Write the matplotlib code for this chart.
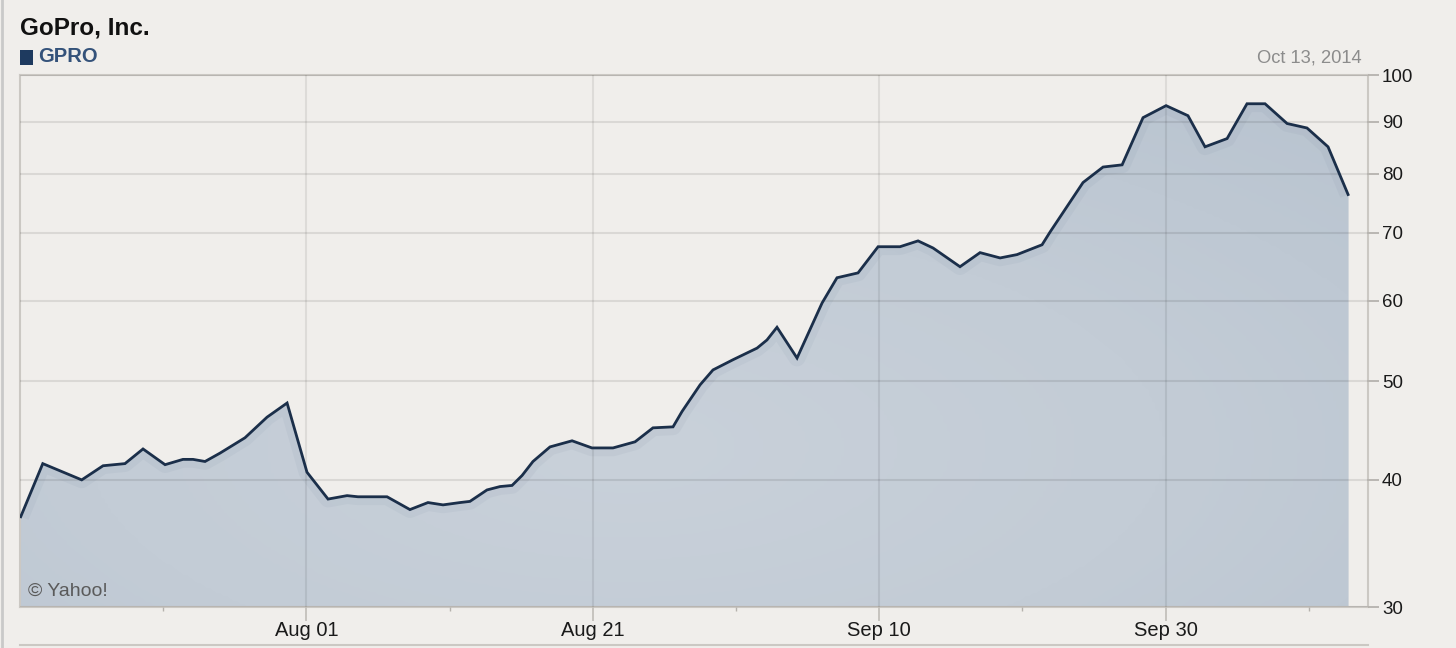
import numpy as np
import pandas as pd
import matplotlib
matplotlib.use("Agg")
import matplotlib.pyplot as plt
from matplotlib.patches import Rectangle
from matplotlib.lines import Line2D
from matplotlib.ticker import FixedLocator, FuncFormatter, NullLocator
from matplotlib.colors import LinearSegmentedColormap
import matplotlib.dates as mdates

plt.rcParams["font.family"] = ["Liberation Sans", "DejaVu Sans"]

# Données : jours depuis le 12 juillet 2014 et cours (USD)
debut = pd.Timestamp("2014-07-12")
jours = [0.05, 1.59, 4.31, 5.80, 7.33, 8.59, 10.13, 11.38, 12.08, 12.92,
         13.97, 15.71, 17.25, 18.65, 20.04, 21.51, 22.84, 23.60, 25.63, 27.23,
         28.49, 29.54, 30.73, 31.42, 32.61, 33.52, 34.36, 35.06, 35.82, 37.01,
         38.55, 39.94, 41.41, 42.95, 44.20, 45.60, 46.23, 47.49, 48.39, 49.79,
         51.47, 52.16, 52.86, 54.26, 56.01, 57.05, 58.52, 59.92, 61.45, 62.71,
         63.76, 65.64, 67.04, 68.44, 69.62, 71.37, 71.93, 74.23, 75.63, 76.96,
         78.42, 80.03, 81.56, 82.75, 84.29, 85.68, 86.94, 88.48, 89.87, 91.34,
         92.74]
prix = [36.8, 41.5, 40.0, 41.3, 41.5, 42.9, 41.4, 41.9, 41.9, 41.7,
        42.5, 44.0, 46.1, 47.6, 40.7, 38.3, 38.6, 38.5, 38.5, 37.4,
        38.0, 37.8, 38.0, 38.1, 39.1, 39.4, 39.5, 40.4, 41.7, 43.1,
        43.7, 43.0, 43.0, 43.6, 45.0, 45.1, 46.7, 49.6, 51.3, 52.5,
        53.9, 54.9, 56.5, 52.7, 59.7, 63.2, 63.9, 67.8, 67.8, 68.7,
        67.6, 64.8, 66.9, 66.1, 66.6, 68.1, 70.1, 78.4, 81.2, 81.6,
        90.8, 93.3, 91.2, 85.0, 86.6, 93.7, 93.7, 89.6, 88.7, 85.0,
        76.3]

ticks_dates = ["2014-08-01", "2014-08-21", "2014-09-10", "2014-09-30"]
ticks_mineurs = ["2014-07-22", "2014-08-11", "2014-08-31", "2014-09-20", "2014-10-10"]
ticks_y = [30, 40, 50, 60, 70, 80, 90, 100]

dates = debut + pd.to_timedelta(jours, unit="D")

fond = "#f0eeeb"
fig = plt.figure(figsize=(14.56, 6.48), dpi=100, facecolor=fond)
ax = fig.add_axes([20 / 1456, 1 - 607 / 648, 1348 / 1456, 532 / 648])
ax.set_facecolor(fond)
ax.set_yscale("log")
ax.set_xlim(debut, debut + pd.Timedelta(days=94.13))
ax.set_ylim(30, 100)
ax.set_autoscale_on(False)

# Zone remplie avec un dégradé
poly = ax.fill_between(dates, prix, 30, color="#c3ccd6", lw=0, zorder=1)
chemin = poly.get_paths()[0]
ny, nx = 200, 400
yy, xx = np.mgrid[0:1:ny * 1j, 0:1:nx * 1j]
r = np.sqrt(((xx - 0.45) / 0.8) ** 2 + ((yy - 0.3) / 0.85) ** 2)
cmap = LinearSegmentedColormap.from_list("yahoo", ["#c9d1da", "#c3ccd6", "#b9c4d0"])
im = ax.imshow(r, extent=[0, 1, 0, 1], origin="lower", transform=ax.transAxes,
               cmap=cmap, vmin=0.0, vmax=1.0, aspect="auto", zorder=1.2,
               interpolation="bilinear")
im.set_clip_path(chemin, transform=ax.transData)

# léger ombrage sous la courbe (seulement dans la zone remplie)
ombre, = ax.plot(dates, prix, color="#6f8299", lw=12, alpha=0.08, zorder=1.5,
                 solid_capstyle="butt")
ombre.set_clip_path(chemin, transform=ax.transData)
ax.plot(dates, prix, color="#1b2f4a", lw=2.0, zorder=3, solid_joinstyle="miter")

# Axes et grilles
ax.yaxis.tick_right()
ax.yaxis.set_major_locator(FixedLocator(ticks_y))
ax.yaxis.set_minor_locator(NullLocator())
ax.yaxis.set_major_formatter(FuncFormatter(lambda v, p: f"{v:.0f}"))
ax.xaxis.set_major_locator(FixedLocator([mdates.date2num(pd.Timestamp(d)) for d in ticks_dates]))
ax.xaxis.set_minor_locator(FixedLocator([mdates.date2num(pd.Timestamp(d)) for d in ticks_mineurs]))
ax.xaxis.set_major_formatter(mdates.DateFormatter("%b %d"))

ax.grid(axis="y", color="k", alpha=0.09, lw=1.5)
ax.grid(axis="x", which="major", color="k", alpha=0.08, lw=1.5)
ax.set_axisbelow(False)

for s in ax.spines.values():
    s.set_color("#cbc8c3")
    s.set_linewidth(1.5)

ax.tick_params(axis="y", which="major", length=8, width=1.3, color="#b5b2ad",
               labelsize=13.5, labelcolor="#1a1a1a", pad=2)
ax.tick_params(axis="x", which="major", length=10, width=1.3, color="#c3c0bb",
               labelsize=14.5, labelcolor="#1a1a1a", pad=0)
ax.tick_params(axis="x", which="minor", length=3, width=1.0, color="#b5b2ad")

# Textes
fig.text(20 / 1456, 1 - 28 / 648, "GoPro, Inc.", fontsize=17.5, fontweight="bold",
         color="#111111", va="center", ha="left")
fig.add_artist(Rectangle((20 / 1456, 1 - 65 / 648), 13 / 1456, 15 / 648,
                         transform=fig.transFigure, color="#1e3a5f", lw=0))
fig.text(38 / 1456, 1 - 57 / 648, "GPRO", fontsize=14.5, fontweight="bold",
         color="#34527a", va="center", ha="left")
fig.text(1362 / 1456, 1 - 58 / 648, "Oct 13, 2014", fontsize=13.2,
         color="#8c8c8c", va="center", ha="right")
ax.text(0.006, 0.03, "\u00a9 Yahoo!", transform=ax.transAxes, fontsize=14,
        color="#5a5a5a", va="center", ha="left", zorder=4)

# Bordures de la capture
fig.add_artist(Line2D([2 / 1456, 2 / 1456], [0, 1], transform=fig.transFigure,
                      color="#c9c9c9", lw=2))
fig.add_artist(Line2D([20 / 1456, 1368 / 1456], [3 / 648, 3 / 648],
                      transform=fig.transFigure, color="#cbc8c3", lw=1.5))

fig.savefig("out.png", dpi=100, facecolor=fond)
